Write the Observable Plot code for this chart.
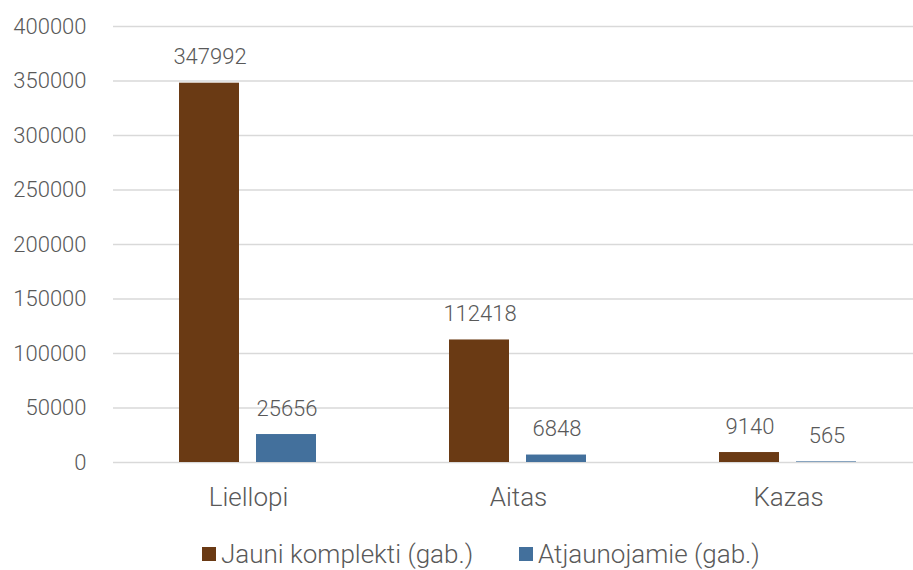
<!DOCTYPE html>
<html>
<head>
<meta charset="utf-8">
<script src="https://cdn.jsdelivr.net/npm/d3@7"></script>
<script src="https://cdn.jsdelivr.net/npm/@observablehq/plot@0.6"></script>
<style>
  body { margin: 0; background: #fff; font-family: Roboto, sans-serif; font-weight: 300; }
  #wrap { position: relative; width: 913px; height: 570px; }
  #legend { position: absolute; top: 530px; left: 0; width: 913px; height: 40px; color: #595959; font-size: 26px; font-weight: 300; }
  .item { position: absolute; top: 7px; display: flex; align-items: center; line-height: 34px; }
  .sw { width: 14px; height: 14px; margin-right: 5px; }
</style>
</head>
<body>
<div id="wrap"><div id="chart"></div><div id="legend"></div></div>
<script>
const categories = ["Liellopi", "Aitas", "Kazas"];
const seriesNames = ["Jauni komplekti (gab.)", "Atjaunojamie (gab.)"];
const jauni = [347992, 112418, 9140];
const atjaunojamie = [25656, 6848, 565];
const yTicks = [0, 50000, 100000, 150000, 200000, 250000, 300000, 350000, 400000];
const colors = ["#6a3a14", "#43709c"];

const rowsA = categories.map((c, i) => ({cat: c, value: jauni[i]}));
const rowsB = categories.map((c, i) => ({cat: c, value: atjaunojamie[i]}));

const chart = Plot.plot({
  width: 913,
  height: 530,
  marginTop: 26,
  marginBottom: 68,
  marginLeft: 113,
  marginRight: 0,
  style: {fontFamily: "Roboto, sans-serif", fontWeight: 300, fontSize: "22px", color: "#595959", background: "#fff"},
  x: {domain: categories, range: [113, 923], padding: 0, label: null, tickSize: 0, tickPadding: 25},
  y: {domain: [0, 400000], ticks: yTicks, tickFormat: d => String(d), label: null, tickSize: 0, tickPadding: 27},
  marks: [
    Plot.gridY(yTicks, {stroke: "#d9d9d9", strokeOpacity: 1, strokeWidth: 1.5}),
    Plot.axisY({ticks: yTicks, tickFormat: d => String(d), tickSize: 0, tickPadding: 27, label: null, fontSize: 22, fill: "#595959"}),
    Plot.axisX({tickSize: 0, tickPadding: 25, label: null, fontSize: 26, fill: "#595959"}),
    Plot.barY(rowsA, {x: "cat", y: "value", fill: colors[0], insetLeft: 66, insetRight: 144}),
    Plot.barY(rowsB, {x: "cat", y: "value", fill: colors[1], insetLeft: 143, insetRight: 67}),
    Plot.text(rowsA, {x: "cat", y: "value", text: d => String(d.value), dx: -38.5, dy: -26, lineAnchor: "middle", fill: "#595959", fontSize: 22}),
    Plot.text(rowsB, {x: "cat", y: "value", text: d => String(d.value), dx: 38.5, dy: -26, lineAnchor: "middle", fill: "#595959", fontSize: 22})
  ]
});
document.getElementById("chart").appendChild(chart);

const legend = document.getElementById("legend");
const lefts = [202, 519];
seriesNames.forEach((name, i) => {
  const it = document.createElement("div");
  it.className = "item";
  it.style.left = lefts[i] + "px";
  it.innerHTML = `<span class="sw" style="background:${colors[i]}"></span><span>${name}</span>`;
  legend.appendChild(it);
});
</script>
</body>
</html>
